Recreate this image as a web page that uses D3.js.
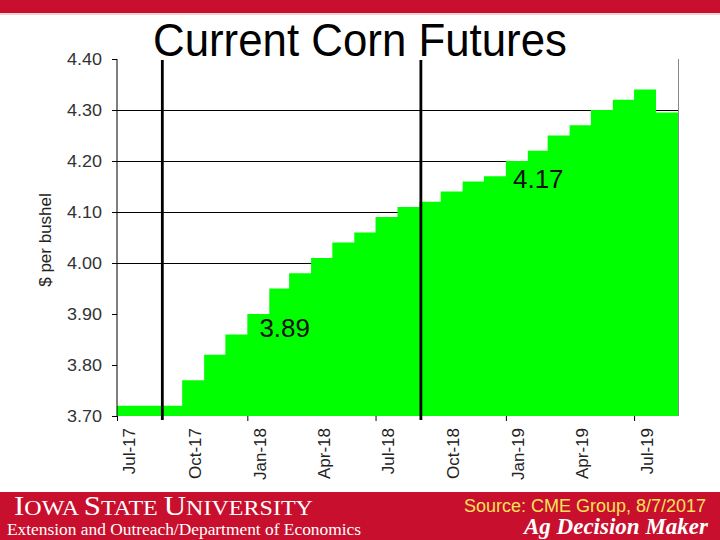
<!DOCTYPE html>
<html>
<head>
<meta charset="utf-8">
<script src="https://cdn.jsdelivr.net/npm/d3@7"></script>
<style>
  html, body { margin: 0; padding: 0; background: #fff; }
  svg { display: block; font-family: "Liberation Sans", Arial, sans-serif; }
</style>
</head>
<body>
<svg id="chart" width="720" height="540"></svg>
<script>
// ---- data ----
const months = ["2017-07","2017-08","2017-09","2017-10","2017-11","2017-12",
                "2018-01","2018-02","2018-03","2018-04","2018-05","2018-06",
                "2018-07","2018-08","2018-09","2018-10","2018-11","2018-12",
                "2019-01","2019-02","2019-03","2019-04","2019-05","2019-06",
                "2019-07","2019-08"];
const prices = [3.72,3.72,3.72,3.77,3.82,3.86,
                3.90,3.95,3.98,4.01,4.04,4.06,
                4.09,4.11,4.12,4.14,4.16,4.17,
                4.20,4.22,4.25,4.27,4.30,4.32,
                4.34,4.295];
const domainStart = "2017-07";
const domainEnd = "2019-09";
const yTicks = [3.70,3.80,3.90,4.00,4.10,4.20,4.30,4.40];
const gridValues = [4.00,4.10,4.20,4.30];
const markerDates = ["2017-09-03","2018-09-03"];
const annotationText = ["3.89","4.17"];
const annotationDate = ["2018-01-18","2019-01-11"];
const annotationValue = [3.855,4.147];
const titleText = "Current Corn Futures";
const yLabel = "$ per bushel";

(function(){
const parseM = d3.timeParse("%Y-%m");
const parseD = d3.timeParse("%Y-%m-%d");
const SANS = '"Liberation Sans", Arial, sans-serif';
const SERIF = '"Liberation Serif", "Times New Roman", serif';

const svg = d3.select("#chart");
const W = 720, H = 540;
const pLeft = 117, pRight = 678, pTop = 59, pBottom = 416;

const x = d3.scaleTime().domain([parseM(domainStart), parseM(domainEnd)]).range([pLeft, pRight]);
const y = d3.scaleLinear().domain([3.70, 4.40]).range([pBottom, pTop]);

// top band
svg.append("rect").attr("x",0).attr("y",0).attr("width",W).attr("height",13).attr("fill","#C8102E");
svg.append("rect").attr("x",0).attr("y",13).attr("width",W).attr("height",2).attr("fill","#f3d3d7");

// right border
svg.append("line").attr("x1",pRight+0.5).attr("x2",pRight+0.5).attr("y1",pTop).attr("y2",pBottom)
  .attr("stroke","#888").attr("stroke-width",1);

// gridlines
svg.append("g").selectAll("line").data(gridValues).join("line")
  .attr("x1",pLeft).attr("x2",pRight)
  .attr("y1",d=>Math.round(y(d))+0.5).attr("y2",d=>Math.round(y(d))+0.5)
  .attr("stroke","#000").attr("stroke-width",1);

// step area
const pts = months.map((m,i)=>({date:parseM(m), v:prices[i]}));
pts.push({date:parseM(domainEnd), v:prices[prices.length-1]});
const area = d3.area().curve(d3.curveStepAfter)
  .x(d=>x(d.date)).y0(y(3.70)).y1(d=>y(d.v));
svg.append("path").datum(pts).attr("d",area).attr("fill","#00FF00");

// y axis
const yAxis = svg.append("g").attr("transform",`translate(${pLeft},0)`)
  .call(d3.axisLeft(y).tickValues(yTicks).tickFormat(d3.format(".2f")).tickSize(5).tickPadding(10));
yAxis.select(".domain").attr("stroke","#000").attr("d",`M0,${pTop}V${pBottom}`);
yAxis.selectAll(".tick line").attr("stroke","#000");
yAxis.selectAll(".tick text")
  .style("font-family",SANS).style("font-size","16px").attr("fill","#333")
  .attr("textLength",35).attr("lengthAdjust","spacingAndGlyphs");

// x axis: major ticks every 6 months
const xMajor = svg.append("g").attr("transform",`translate(0,${pBottom})`)
  .call(d3.axisBottom(x).ticks(d3.timeMonth.every(6)).tickSize(5).tickFormat(""));
xMajor.select(".domain").remove();
xMajor.selectAll(".tick line").attr("stroke","#000");

// x labels every quarter
const xLab = svg.append("g").attr("transform",`translate(0,${pBottom})`)
  .call(d3.axisBottom(x).ticks(d3.timeMonth.every(3)).tickSize(0).tickFormat(d3.timeFormat("%b-%y")));
xLab.select(".domain").remove();
xLab.selectAll(".tick text")
  .style("font-family",SANS).style("font-size","17px").attr("fill","#222")
  .attr("text-anchor","end")
  .attr("x",0).attr("y",0).attr("dy","0.35em")
  .attr("transform","translate(12,12) rotate(-90)");

// marker lines
svg.append("g").selectAll("line").data(markerDates).join("line")
  .attr("x1",d=>x(parseD(d))).attr("x2",d=>x(parseD(d)))
  .attr("y1",60).attr("y2",420)
  .attr("stroke","#000").attr("stroke-width",2.8);

// annotations
svg.append("g").selectAll("text").data(annotationText).join("text")
  .attr("x",(d,i)=>x(parseD(annotationDate[i])))
  .attr("y",(d,i)=>y(annotationValue[i]))
  .style("font-family",SANS).style("font-size","26px").attr("fill","#111")
  .text(d=>d);

// y label
svg.append("text")
  .attr("transform","translate(51,240) rotate(-90)")
  .attr("text-anchor","middle")
  .style("font-family",SANS).style("font-size","17px").attr("fill","#222")
  .text(yLabel);

// title
svg.append("text")
  .attr("x",153).attr("y",56)
  .style("font-family",SANS).style("font-size","46px").attr("fill","#000")
  .attr("textLength",414).attr("lengthAdjust","spacingAndGlyphs")
  .text(titleText);

// footer
svg.append("rect").attr("x",0).attr("y",492).attr("width",W).attr("height",48).attr("fill","#C8102E");
const isu = svg.append("text").attr("x",14).attr("y",515)
  .style("font-family",SERIF).attr("fill","#fff")
  .attr("textLength",299).attr("lengthAdjust","spacingAndGlyphs");
[["I",27],["OWA ",21],["S",27],["TATE ",21],["U",27],["NIVERSITY",21]].forEach(([t,s])=>{
  isu.append("tspan").style("font-size",s+"px").text(t);
});
svg.append("text").attr("x",7).attr("y",535)
  .style("font-family",SERIF).style("font-size","16px").attr("fill","#fff")
  .attr("textLength",354).attr("lengthAdjust","spacingAndGlyphs")
  .text("Extension and Outreach/Department of Economics");
svg.append("text").attr("x",464).attr("y",512)
  .style("font-family",SANS).style("font-size","18px").attr("fill","#F7E35A")
  .text("Source: CME Group, 8/7/2017");
svg.append("text").attr("x",708).attr("y",534).attr("text-anchor","end")
  .style("font-family",SERIF).style("font-size","23px")
  .style("font-weight","bold").style("font-style","italic").attr("fill","#fff")
  .text("Ag Decision Maker");
})();
</script>
</body>
</html>
